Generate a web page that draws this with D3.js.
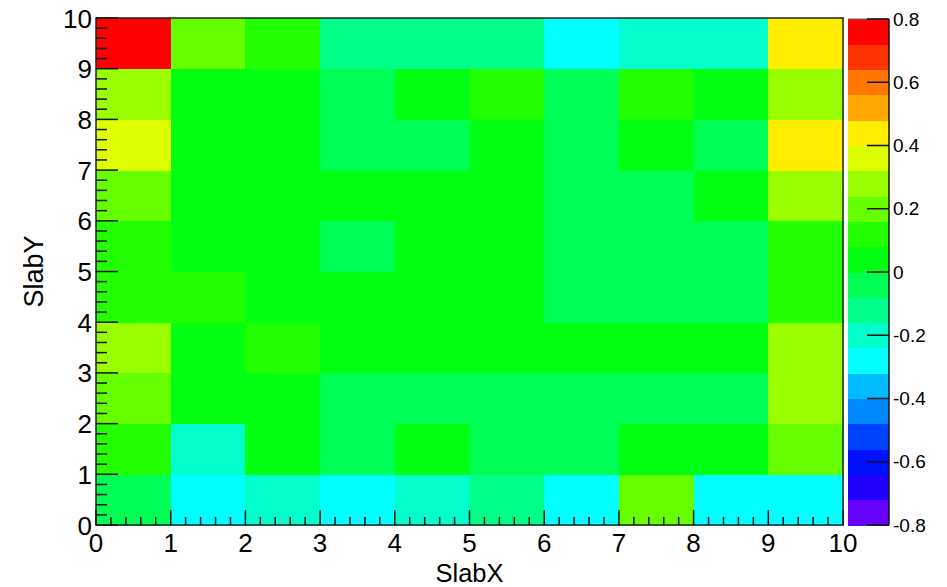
<!DOCTYPE html>
<html><head><meta charset="utf-8">
<script src="https://cdn.jsdelivr.net/npm/d3@7"></script>
<style>html,body{margin:0;padding:0;background:#fff;}svg{display:block;font-family:"Liberation Sans",Arial,sans-serif;}</style>
</head><body><svg id="c" width="947" height="587"></svg>
<script>
// Data
const xBins = [0,1,2,3,4,5,6,7,8,9];
const yBins = [0,1,2,3,4,5,6,7,8,9];
const row0 = [-0.04,-0.28,-0.20,-0.28,-0.20,-0.12,-0.28,0.20,-0.28,-0.28];
const row1 = [0.12,-0.20,0.04,-0.04,0.04,-0.04,-0.04,0.04,0.04,0.20];
const row2 = [0.20,0.04,0.04,-0.04,-0.04,-0.04,-0.04,-0.04,-0.04,0.28];
const row3 = [0.28,0.04,0.12,0.04,0.04,0.04,0.04,0.04,0.04,0.28];
const row4 = [0.12,0.12,0.04,0.04,0.04,0.04,-0.04,-0.04,-0.04,0.12];
const row5 = [0.12,0.04,0.04,-0.04,0.04,0.04,-0.04,-0.04,-0.04,0.12];
const row6 = [0.20,0.04,0.04,0.04,0.04,0.04,-0.04,-0.04,0.04,0.28];
const row7 = [0.36,0.04,0.04,-0.04,-0.04,0.04,-0.04,0.04,-0.04,0.44];
const row8 = [0.28,0.04,0.04,-0.04,0.04,0.12,-0.04,0.12,0.04,0.28];
const row9 = [0.76,0.20,0.12,-0.12,-0.12,-0.12,-0.28,-0.20,-0.20,0.44];
const rows = [row0,row1,row2,row3,row4,row5,row6,row7,row8,row9];
const xTicks = [0,1,2,3,4,5,6,7,8,9,10];
const yTicks = [0,1,2,3,4,5,6,7,8,9,10];
const zTicks = [-0.8,-0.6,-0.4,-0.2,0,0.2,0.4,0.6,0.8];
const zLabels = ["-0.8","-0.6","-0.4","-0.2","0","0.2","0.4","0.6","0.8"];
const paletteColors = ["#6600ff","#2200ff","#0011ff","#0044ff","#0088ff","#00bbff","#00ffff","#00ffcc","#00ff88","#00ff55",
  "#00ff11","#22ff00","#66ff00","#99ff00","#ddff00","#ffee00","#ffa500","#ff7700","#ff3300","#ff0000"];

const svg = d3.select("#c");
const L=96,R=843,T=18,B=525;
const x = d3.scaleLinear().domain([0,10]).range([L,R]);
const y = d3.scaleLinear().domain([0,10]).range([B,T]);
const color = d3.scaleQuantize().domain([-0.8,0.8]).range(paletteColors);

const cells=[];
rows.forEach((r,j)=>r.forEach((v,i)=>cells.push({i:xBins[i],j:yBins[j],v})));
svg.append("g").selectAll("rect").data(cells).join("rect")
  .attr("x",d=>x(d.i)).attr("y",d=>y(d.j+1))
  .attr("width",d=>x(d.i+1)-x(d.i)+0.5).attr("height",d=>y(d.j)-y(d.j+1)+0.5)
  .attr("fill",d=>color(d.v)).attr("shape-rendering","crispEdges");

// frame
svg.append("rect").attr("x",L).attr("y",T).attr("width",R-L).attr("height",B-T)
  .attr("fill","none").attr("stroke","#222").attr("stroke-width",1.5);

// axis ticks
const g = svg.append("g").attr("stroke","#111").attr("stroke-width",1.5);
const xMinor = d3.range(0,50.5).map(k=>k/5);
g.selectAll(".xt").data(xMinor).join("line")
  .attr("x1",d=>x(d)).attr("x2",d=>x(d)).attr("y1",B)
  .attr("y2",(d,k)=>B-(k%5===0?15:8));
const yMinor = d3.range(0,50.5).map(k=>k/5);
g.selectAll(".yt").data(yMinor).join("line")
  .attr("y1",d=>y(d)).attr("y2",d=>y(d)).attr("x1",L)
  .attr("x2",(d,k)=>L+(k%5===0?22:11));

const fs=26;
svg.append("g").selectAll("text").data(xTicks).join("text")
  .attr("x",d=>x(d)).attr("y",551.5).attr("text-anchor","middle")
  .attr("font-size",fs).attr("fill","#000").text(d=>d);
svg.append("g").selectAll("text").data(yTicks).join("text")
  .attr("x",92).attr("y",d=>y(d)+9.5).attr("text-anchor","end")
  .attr("font-size",fs).attr("fill","#000").text(d=>d);

svg.append("text").attr("x",(L+R)/2).attr("y",581.5).attr("text-anchor","middle")
  .attr("font-size",25.5).text("SlabX");
svg.append("text").attr("transform",`translate(43,${(T+B)/2}) rotate(-90)`).attr("text-anchor","middle")
  .attr("font-size",27).text("SlabY");

// palette
const PL=848,PR=889;
const z = d3.scaleLinear().domain([-0.8,0.8]).range([B,T+1]);
const bins = paletteColors.map((c,k)=>({lo:-0.8+k*0.08,hi:-0.8+(k+1)*0.08,c}));
svg.append("g").selectAll("rect").data(bins).join("rect")
  .attr("x",PL).attr("width",PR-PL).attr("y",d=>z(d.hi)).attr("height",d=>z(d.lo)-z(d.hi)+0.5)
  .attr("fill",d=>d.c).attr("shape-rendering","crispEdges");
svg.append("line").attr("x1",PL).attr("x2",PR).attr("y1",T+1).attr("y2",T+1).attr("stroke","#666").attr("stroke-width",1);
svg.append("line").attr("x1",PR).attr("x2",PR).attr("y1",T+1).attr("y2",B).attr("stroke","#111").attr("stroke-width",1.5);
svg.append("g").selectAll("line").data(zTicks).join("line")
  .attr("x1",PR-22).attr("x2",PR).attr("y1",d=>z(d)).attr("y2",d=>z(d))
  .attr("stroke","#111").attr("stroke-width",1.5);
svg.append("g").selectAll("text").data(zTicks).join("text")
  .attr("x",893).attr("y",d=>z(d)+6.5).attr("font-size",19).attr("fill","#000")
  .text((d,k)=>zLabels[k]);
</script></body></html>
